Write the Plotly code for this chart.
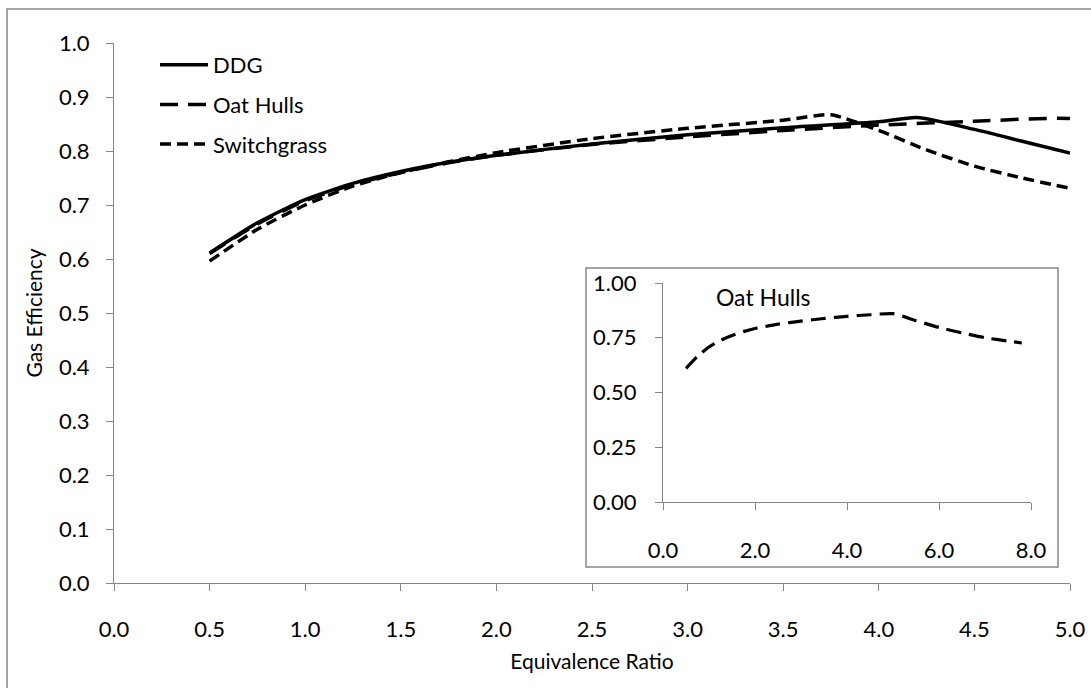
import plotly.graph_objects as go

# Gas efficiency vs. equivalence ratio for three feedstocks
ddg_x = [0.5, 0.75, 1.0, 1.25, 1.5, 1.75, 2.0, 2.5, 3.0, 3.5, 4.0, 4.2, 4.5, 4.75, 5.0]
ddg_y = [0.611, 0.667, 0.710, 0.740, 0.762, 0.779, 0.792, 0.813, 0.830, 0.843, 0.854, 0.862, 0.840, 0.818, 0.796]

oat_x = [0.5, 0.75, 1.0, 1.25, 1.5, 1.75, 2.0, 2.5, 3.0, 3.5, 4.0, 4.5, 5.0, 5.5, 6.0, 6.5, 7.0, 7.5, 7.8]
oat_y = [0.610, 0.665, 0.708, 0.738, 0.760, 0.778, 0.792, 0.812, 0.826, 0.838, 0.848, 0.855, 0.860,
         0.828, 0.797, 0.772, 0.750, 0.735, 0.726]

swg_x = [0.5, 0.75, 1.0, 1.25, 1.5, 1.75, 2.0, 2.5, 3.0, 3.5, 3.75, 4.0, 4.25, 4.5, 4.75, 5.0]
swg_y = [0.596, 0.655, 0.700, 0.735, 0.760, 0.780, 0.797, 0.823, 0.842, 0.857, 0.867, 0.838,
         0.802, 0.772, 0.750, 0.731]

series_names = ["DDG", "Oat Hulls", "Switchgrass"]
inset_title = "Oat Hulls"

FONT = "Lato, Liberation Sans, sans-serif"
AX = "#868686"
W, H = 1091, 688

fig = go.Figure()
fig.add_trace(go.Scatter(x=ddg_x, y=ddg_y, name=series_names[0], mode="lines",
                         line=dict(color="black", width=3.5, shape="spline", smoothing=0.6),
                         legendgroup="a"))
fig.add_trace(go.Scatter(x=oat_x, y=oat_y, name=series_names[1], mode="lines",
                         line=dict(color="black", width=3.5, dash="18px,10px", shape="spline", smoothing=0.6),
                         legendgroup="b"))
fig.add_trace(go.Scatter(x=swg_x, y=swg_y, name=series_names[2], mode="lines",
                         line=dict(color="black", width=3.5, dash="11px,6px", shape="spline", smoothing=0.6),
                         legendgroup="c"))
# inset: Oat Hulls over the extended range
fig.add_trace(go.Scatter(x=oat_x, y=oat_y, name=inset_title, mode="lines", showlegend=False,
                         xaxis="x2", yaxis="y2",
                         line=dict(color="black", width=3.2, dash="15px,8px", shape="spline", smoothing=0.6)))


def px_x(p):
    return p / W


def px_y(p):
    return (H - p) / H


axis_common = dict(showgrid=False, zeroline=False, showline=True, linecolor=AX, linewidth=1,
                   ticks="outside", tickcolor=AX, ticklen=7, tickwidth=1, automargin=False,
                   tickfont=dict(family=FONT, size=22, color="black"))

fig.update_layout(
    width=W, height=H,
    margin=dict(l=0, r=0, t=0, b=0),
    paper_bgcolor="white", plot_bgcolor="white",
    font=dict(family=FONT, size=22, color="black"),
    xaxis=dict(domain=[px_x(114), px_x(1070)], range=[0, 5], dtick=0.5, tickformat=".1f",
               ticklabelstandoff=20,
               title=dict(text="Equivalence Ratio", font=dict(family=FONT, size=21), standoff=12),
               **axis_common),
    yaxis=dict(domain=[px_y(583), px_y(43)], range=[0, 1], dtick=0.1, tickformat=".1f",
               ticklabelstandoff=12,
               title=dict(text="Gas Efficiency", font=dict(family=FONT, size=21), standoff=10),
               **axis_common),
    xaxis2=dict(domain=[px_x(663), px_x(1031)], range=[0, 8], dtick=2, tickformat=".1f",
                anchor="y2", ticklabelstandoff=22, **axis_common),
    yaxis2=dict(domain=[px_y(502), px_y(283)], range=[0, 1], dtick=0.25, tickformat=".2f",
                anchor="x2", ticklabelstandoff=14, **axis_common),
    legend=dict(x=px_x(155), y=px_y(44), xanchor="left", yanchor="top",
                bgcolor="rgba(0,0,0,0)", font=dict(family=FONT, size=22),
                tracegroupgap=8, itemwidth=48),
    showlegend=True,
)

# chart border and inset frame
fig.add_shape(type="rect", xref="paper", yref="paper",
              x0=px_x(7), x1=1.02, y0=-0.02, y1=px_y(9),
              line=dict(color=AX, width=1.5), fillcolor="rgba(0,0,0,0)")
fig.add_shape(type="rect", xref="paper", yref="paper",
              x0=px_x(586), x1=px_x(1058), y0=px_y(567), y1=px_y(268),
              line=dict(color=AX, width=1.5), fillcolor="rgba(0,0,0,0)")

fig.add_annotation(text=inset_title, xref="paper", yref="paper",
                   x=px_x(813), y=px_y(297), showarrow=False,
                   font=dict(family=FONT, size=23, color="black"))

fig.write_html("out.html")
